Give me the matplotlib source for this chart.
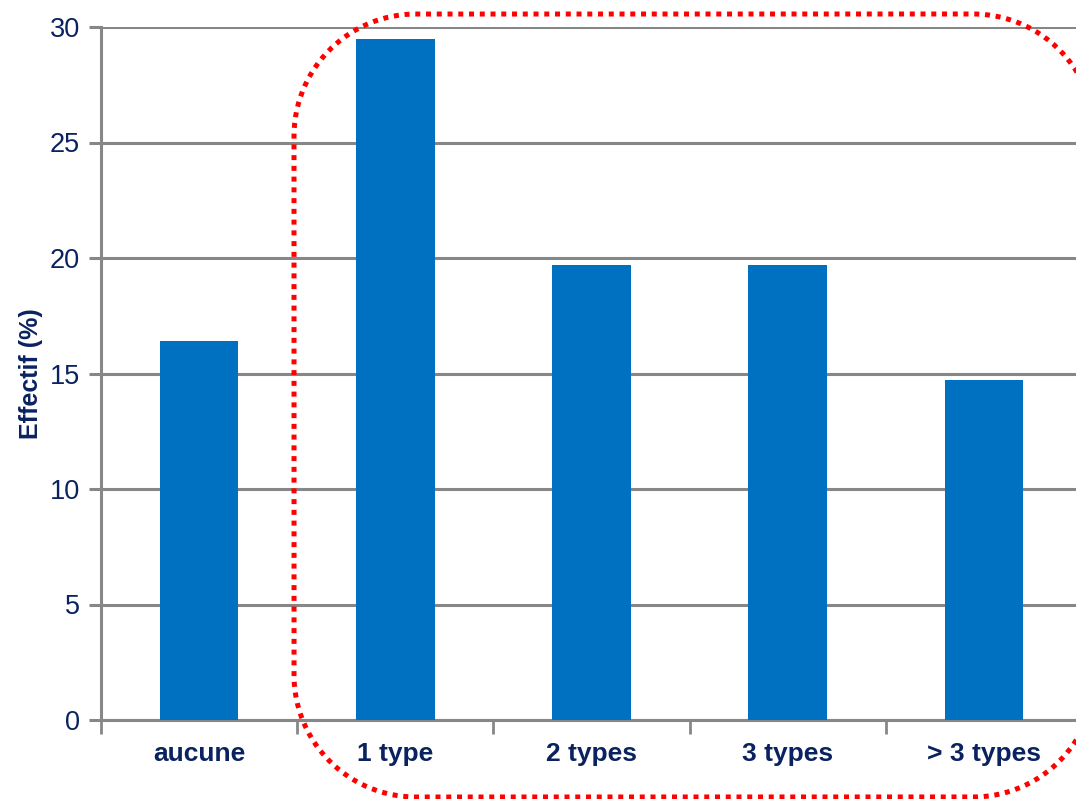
import matplotlib
matplotlib.use("Agg")
import numpy as np
import matplotlib.pyplot as plt
from matplotlib.lines import Line2D

categories = ["aucune", "1 type", "2 types", "3 types", "> 3 types"]
values = [16.4, 29.5, 19.7, 19.7, 14.7]
yticks = [0, 5, 10, 15, 20, 25, 30]

bar_color = "#0070C0"
grid_color = "#878787"
text_color = "#0A2260"

plt.rcParams["font.family"] = ["Liberation Sans", "DejaVu Sans"]

fig = plt.figure(figsize=(10.76, 7.99), dpi=100)
ax = fig.add_axes([101 / 1076, 79 / 799, 981 / 1076, 693 / 799])

x = list(range(len(categories)))
ax.bar(x, values, width=0.4, color=bar_color, zorder=3)

ax.set_xlim(-0.5, len(categories) - 0.5)
ax.set_ylim(0, 30)
ax.set_yticks(yticks)
ax.set_yticklabels([str(t) for t in yticks], fontsize=19.5, color=text_color)

# category labels centred between boundary ticks
ax.set_xticks(x)
ax.set_xticklabels(categories, fontsize=19, fontweight="bold", color=text_color)
ax.set_xticks([i - 0.5 for i in range(len(categories) + 1)], minor=True)
ax.tick_params(axis="x", which="major", length=0, pad=16)
ax.tick_params(axis="x", which="minor", length=10, width=2, color=grid_color)
ax.tick_params(axis="y", length=9, width=2.2, color=grid_color, pad=6)

ax.set_ylabel("Effectif (%)", fontsize=18, fontweight="bold", color=text_color, labelpad=5)

ax.yaxis.grid(True, color=grid_color, linewidth=2.2)
ax.set_axisbelow(True)
for side in ("top", "right"):
    ax.spines[side].set_visible(False)
for side in ("left", "bottom"):
    ax.spines[side].set_color(grid_color)
    ax.spines[side].set_linewidth(2.2)


def rounded_rect(x0, y0, x1, y1, r, n=60):
    """Closed polyline of a rectangle with circular corners (inches)."""
    pts = []
    corners = [
        (x1 - r, y1 - r, 0.0),          # top-right
        (x0 + r, y1 - r, 0.5 * np.pi),  # top-left
        (x0 + r, y0 + r, np.pi),        # bottom-left
        (x1 - r, y0 + r, 1.5 * np.pi),  # bottom-right
    ]
    for cx, cy, a0 in corners:
        t = np.linspace(a0, a0 + 0.5 * np.pi, n)
        pts.append(np.column_stack([cx + r * np.cos(t), cy + r * np.sin(t)]))
    pts = np.vstack(pts)
    return np.vstack([pts, pts[:1]])


# dotted rounded frame around the typed categories
frame_xy = rounded_rect(2.94, 0.02, 10.95, 7.85, 1.22)
frame = Line2D(
    frame_xy[:, 0], frame_xy[:, 1],
    transform=fig.dpi_scale_trans,
    color="#FF0000", linewidth=3.6,
    linestyle=(0, (1, 1.15)), dash_capstyle="butt", clip_on=False, zorder=10,
)
fig.add_artist(frame)

fig.savefig("out.png", dpi=100, facecolor="white")
